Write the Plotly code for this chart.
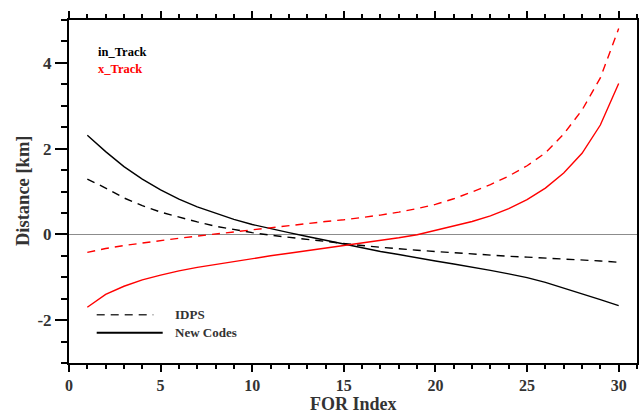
import plotly.graph_objects as go

for_index = list(range(1, 31))

in_track_new = [2.31, 1.93, 1.58, 1.29, 1.04, 0.82, 0.64, 0.49, 0.35, 0.23,
                0.13, 0.04, -0.05, -0.14, -0.23, -0.32, -0.40, -0.47, -0.55, -0.62,
                -0.69, -0.76, -0.84, -0.92, -1.01, -1.12, -1.25, -1.38, -1.52, -1.66]
in_track_idps = [1.29, 1.08, 0.85, 0.67, 0.52, 0.40, 0.29, 0.19, 0.11, 0.04,
                 -0.02, -0.07, -0.12, -0.17, -0.21, -0.26, -0.30, -0.34, -0.37, -0.40,
                 -0.43, -0.46, -0.48, -0.51, -0.53, -0.55, -0.58, -0.60, -0.62, -0.65]
x_track_new = [-1.70, -1.40, -1.21, -1.06, -0.95, -0.85, -0.77, -0.70, -0.64, -0.57,
               -0.50, -0.44, -0.38, -0.32, -0.27, -0.21, -0.15, -0.08, -0.01, 0.09,
               0.19, 0.30, 0.43, 0.60, 0.81, 1.08, 1.43, 1.89, 2.55, 3.52]
x_track_idps = [-0.42, -0.33, -0.26, -0.20, -0.14, -0.09, -0.04, 0.01, 0.06, 0.11,
                0.16, 0.21, 0.25, 0.30, 0.34, 0.39, 0.45, 0.52, 0.60, 0.70,
                0.83, 0.99, 1.16, 1.36, 1.60, 1.90, 2.34, 2.90, 3.65, 4.80]

x_ticks = [0, 5, 10, 15, 20, 25, 30]
y_ticks = [-2, 0, 2, 4]

FONT = "Liberation Serif"
TXT = "#333333"
DASH = "8px,6px"

fig = go.Figure()
fig.add_trace(go.Scatter(x=for_index, y=in_track_idps, mode="lines",
                         line=dict(color="black", width=1.4, dash=DASH), showlegend=False))
fig.add_trace(go.Scatter(x=for_index, y=in_track_new, mode="lines",
                         line=dict(color="black", width=1.4), showlegend=False))
fig.add_trace(go.Scatter(x=for_index, y=x_track_idps, mode="lines",
                         line=dict(color="#ff0000", width=1.4, dash=DASH), showlegend=False))
fig.add_trace(go.Scatter(x=for_index, y=x_track_new, mode="lines",
                         line=dict(color="#ff0000", width=1.4), showlegend=False))

# plot area in pixels: x 69..637, y 20..363
W, H = 568.0, 343.0
def px(xp):
    return (xp - 69) / W
def py(yp):
    return (363 - yp) / H

shapes = [
    dict(type="line", xref="paper", yref="paper", x0=px(96.7), x1=px(153.3),
         y0=py(314.7), y1=py(314.7), line=dict(color="#333333", width=1.5, dash=DASH)),
    dict(type="line", xref="paper", yref="paper", x0=px(96.7), x1=px(162.7),
         y0=py(332.7), y1=py(332.7), line=dict(color="black", width=2)),
]
annotations = [
    dict(text="<b>in_Track</b>", x=px(96), y=py(51.7), xref="paper", yref="paper",
         xanchor="left", yanchor="middle", showarrow=False,
         font=dict(family=FONT, size=12.5, color="black")),
    dict(text="<b>x_Track</b>", x=px(96), y=py(69), xref="paper", yref="paper",
         xanchor="left", yanchor="middle", showarrow=False,
         font=dict(family=FONT, size=12.5, color="#ff0000")),
    dict(text="<b>IDPS</b>", x=px(172.5), y=py(314.7), xref="paper", yref="paper",
         xanchor="left", yanchor="middle", showarrow=False,
         font=dict(family=FONT, size=13, color=TXT)),
    dict(text="<b>New Codes</b>", x=px(172.5), y=py(332.7), xref="paper", yref="paper",
         xanchor="left", yanchor="middle", showarrow=False,
         font=dict(family=FONT, size=13, color=TXT)),
    dict(text="<b>FOR Index</b>", x=px(353.5), y=py(404), xref="paper", yref="paper",
         xanchor="center", yanchor="middle", showarrow=False,
         font=dict(family=FONT, size=18, color=TXT)),
    dict(text="<b>Distance [km]</b>", x=px(23), y=py(191), xref="paper", yref="paper",
         xanchor="center", yanchor="middle", showarrow=False, textangle=-90,
         font=dict(family=FONT, size=18.5, color=TXT)),
]

fig.update_layout(
    width=639, height=415,
    margin=dict(l=69, r=2, t=20, b=52),
    paper_bgcolor="white", plot_bgcolor="white",
    font=dict(family=FONT, color=TXT),
    shapes=shapes, annotations=annotations,
    showlegend=False,
)
fig.update_xaxes(
    range=[0, 31], tickvals=x_ticks, ticktext=[f"<b>{v}</b>" for v in x_ticks],
    showgrid=False, zeroline=False, automargin=False,
    showline=True, linecolor="black", linewidth=2, mirror="ticks",
    ticks="outside", ticklen=7, tickwidth=2, tickcolor="black",
    minor=dict(dtick=1, tick0=0, ticks="outside", ticklen=4, tickwidth=2, tickcolor="black"),
    tickfont=dict(family=FONT, size=16, color=TXT),
)
fig.update_yaxes(
    range=[-3, 5], tickvals=y_ticks, ticktext=[f"<b>{v}</b>" for v in y_ticks],
    showgrid=False, zeroline=True, zerolinecolor="#8c8c8c", zerolinewidth=1.2,
    showline=True, linecolor="black", linewidth=2, mirror=True, automargin=False,
    ticks="outside", ticklen=12, tickwidth=2, tickcolor="black",
    minor=dict(dtick=0.5, tick0=0, ticks="outside", ticklen=6, tickwidth=2, tickcolor="black"),
    tickfont=dict(family=FONT, size=17, color=TXT),
)

fig.write_html(
    "out.html",
    config={"displayModeBar": False},
    post_script="document.body.style.margin='0';document.body.style.overflow='hidden';",
)
